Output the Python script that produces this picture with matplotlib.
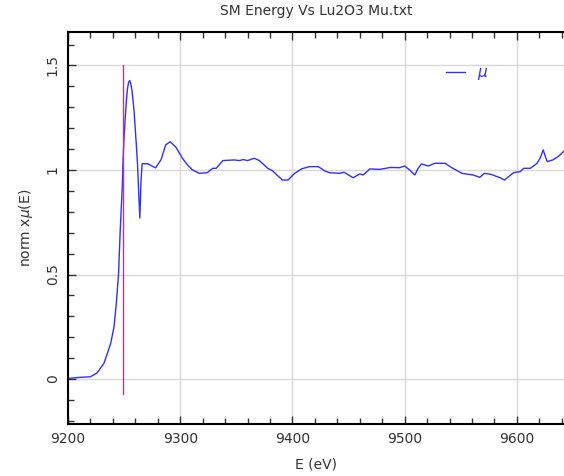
import matplotlib
matplotlib.use('Agg')
import matplotlib.pyplot as plt
from matplotlib.ticker import MultipleLocator

# Energy (eV) and normalised mu(E)
energy = [9200, 9210, 9220, 9226, 9232, 9238, 9241, 9243, 9245, 9246.5, 9248.5, 9249,
          9250, 9251, 9252, 9253, 9254, 9255, 9256, 9257, 9258, 9259, 9260, 9261,
          9262, 9263, 9264, 9265, 9266, 9271,
          9278, 9283, 9287, 9291, 9296, 9302, 9306.5, 9311, 9317, 9324, 9329, 9332,
          9338, 9348, 9353, 9356, 9360, 9366, 9370.5, 9378, 9382, 9391, 9396, 9402,
          9408, 9415, 9423, 9429, 9433, 9442, 9446, 9454, 9460, 9463, 9469, 9478,
          9487, 9495.5, 9500, 9504.5, 9509, 9512, 9515, 9521, 9527, 9536, 9542,
          9551, 9561, 9567, 9571, 9577, 9585, 9589, 9597, 9603, 9606, 9612, 9618,
          9621, 9623.5, 9625, 9627, 9632, 9637, 9642]
mu = [0.003, 0.008, 0.011, 0.03, 0.075, 0.17, 0.25, 0.36, 0.5, 0.71, 0.94, 1.04,
      1.16, 1.25, 1.33, 1.39, 1.42, 1.428, 1.41, 1.38, 1.33, 1.27, 1.19, 1.11,
      1.02, 0.89, 0.77, 0.94, 1.03, 1.03,
      1.01, 1.05, 1.12, 1.135, 1.11, 1.056, 1.024, 1.0, 0.984, 0.987, 1.008, 1.008,
      1.045, 1.048, 1.045, 1.05, 1.045, 1.056, 1.045, 1.008, 0.997, 0.952, 0.952, 0.984,
      1.005, 1.016, 1.016, 0.995, 0.987, 0.984, 0.989, 0.963, 0.981, 0.976, 1.005, 1.003,
      1.012, 1.011, 1.019, 1.0, 0.976, 1.008, 1.029, 1.019, 1.032, 1.032, 1.011,
      0.984, 0.976, 0.965, 0.984, 0.979, 0.963, 0.952, 0.987, 0.992, 1.008, 1.008, 1.032,
      1.06, 1.096, 1.07, 1.04, 1.048, 1.065, 1.09]

e0 = 9249
e0_span = [-0.07, 1.5]

fig = plt.figure(figsize=(5.64, 4.76), dpi=100)
ax = fig.add_axes([0.1206, 0.1092, 0.8794, 0.8236])

ax.plot(energy, mu, color='#3030ff', lw=1.0, label=r'$\mu$')
ax.plot([e0, e0], e0_span, color='#e020a0', lw=1.0)

ax.set_xlim(9200, 9642)
ax.set_ylim(-0.215, 1.66)
ax.xaxis.set_major_locator(MultipleLocator(100))
ax.xaxis.set_minor_locator(MultipleLocator(20))
ax.yaxis.set_major_locator(MultipleLocator(0.5))
ax.yaxis.set_minor_locator(MultipleLocator(0.1))
ax.set_yticks([0, 0.5, 1, 1.5])
ax.set_yticklabels(['0', '0.5', '1', '1.5'], rotation=90, va='center')

ax.grid(True, which='major', color='#d8d8d8', lw=1.0)
ax.tick_params(which='both', direction='in', top=True, right=False,
               labelsize=10, colors='#333333', pad=6)
ax.tick_params(which='major', length=6, width=1)
ax.tick_params(which='minor', length=4, width=1)
for side in ['left', 'bottom', 'top']:
    ax.spines[side].set_linewidth(1.5)
ax.spines['right'].set_visible(False)

ax.set_title('SM Energy Vs Lu2O3 Mu.txt', fontsize=10, color='#333333', pad=12)
ax.set_xlabel('E (eV)', fontsize=10, color='#333333', labelpad=8)
ax.set_ylabel(r'norm x$\mu$(E)', fontsize=10, color='#333333', labelpad=8)

leg = ax.legend(loc='upper left', bbox_to_anchor=(0.735, 0.95), frameon=False,
                handlelength=1.2, fontsize=11)
for t in leg.get_texts():
    t.set_color('#3030ff')

fig.savefig('out.png', dpi=100)
